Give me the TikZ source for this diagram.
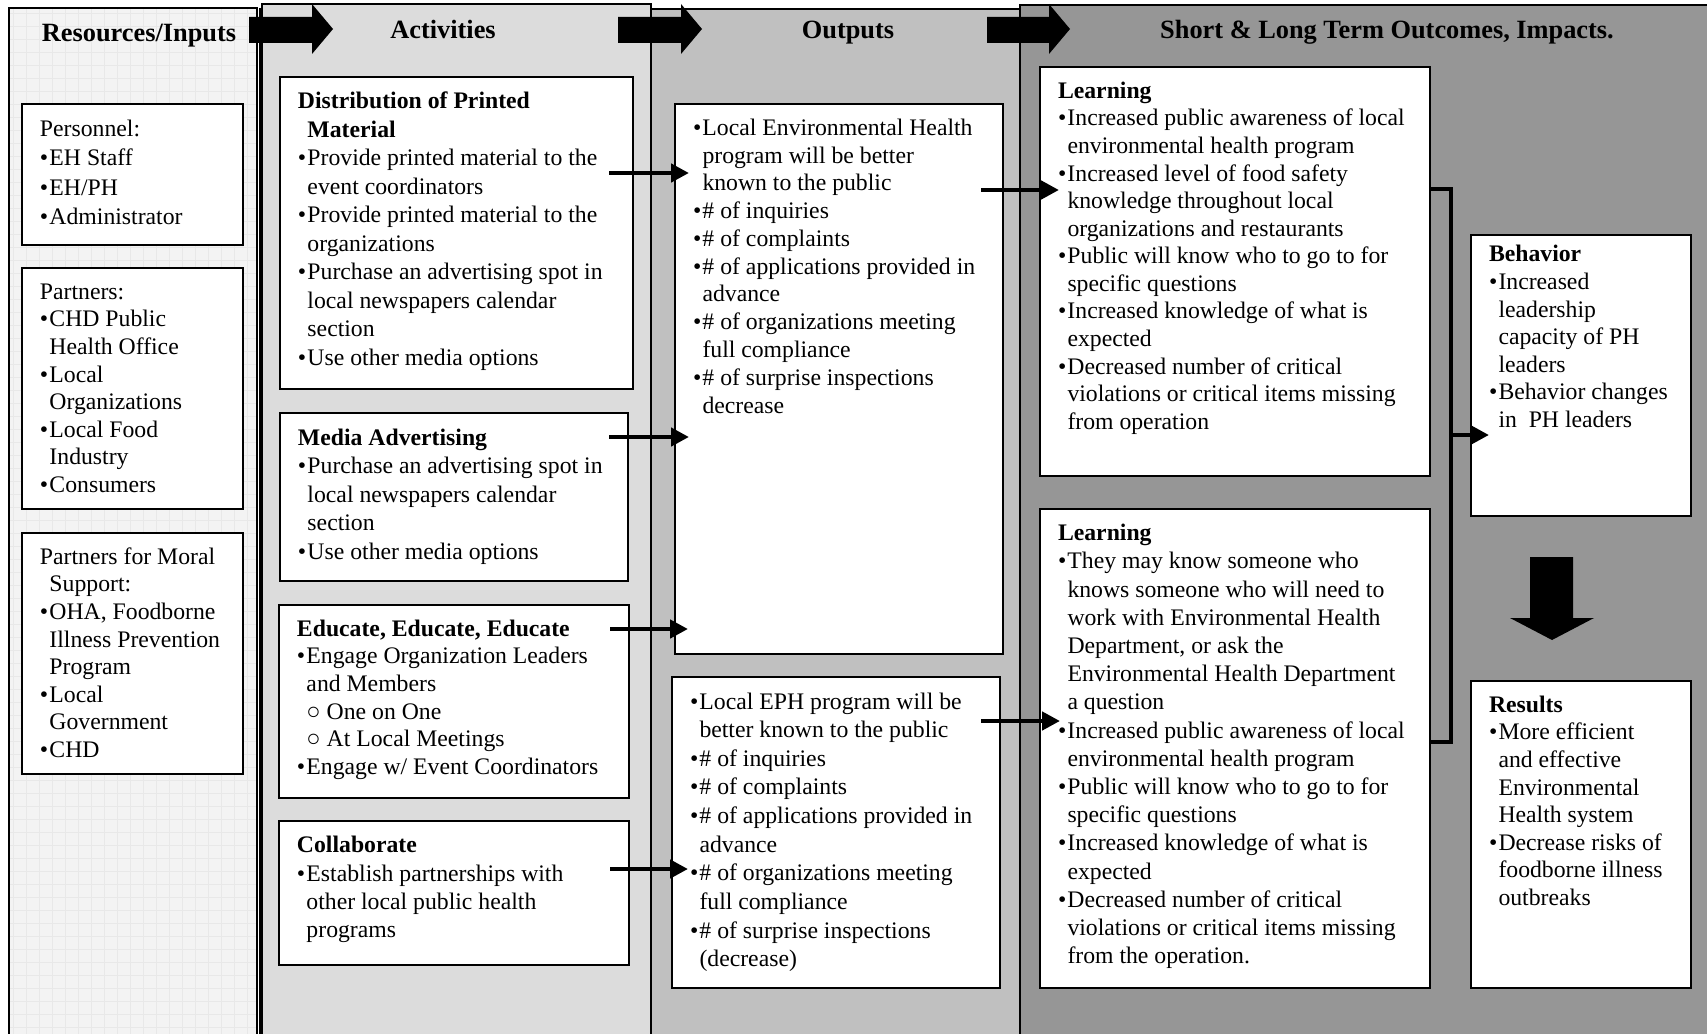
\documentclass[tikz,border=0pt]{standalone}
\usepackage{fontspec}
\setmainfont{Liberation Serif}
\usetikzlibrary{arrows.meta,positioning,shadows}
\definecolor{inputs}{HTML}{F3F3F3}
\definecolor{activ}{HTML}{DCDCDC}
\definecolor{outp}{HTML}{C0C0C0}
\definecolor{outc}{HTML}{969696}

\newlength\pxu  \setlength\pxu{0.02cm}
\newlength\padx \setlength\padx{0.36cm}
\newlength\pady \setlength\pady{0.24cm}
\newlength\bulw \setlength\bulw{0.19cm}
\newcommand{\bul}{\makebox[\bulw][l]{\textbullet}}
\newcommand{\ind}{\hspace*{\bulw}}
% width, height (px), text; optional: pull the text up
\newcommand{\boxtext}[4][0pt]{\parbox[t][\dimexpr#3\pxu-2\pady\relax][t]{\dimexpr#2\pxu-2\padx\relax}{\vskip-#1\strut#4}}

\begin{document}
\begin{tikzpicture}[x=0.02cm, y=-0.02cm,
  box/.style={draw,line width=0.04cm,fill=white,anchor=north west,
    inner xsep=\padx,inner ysep=\pady,font=\fontsize{13.5}{15.7}\selectfont,
    drop shadow={shadow xshift=0.7pt,shadow yshift=-0.7pt,fill=black!60,opacity=1}},
  lsp/.style={font=\fontsize{13.5}{#1}\selectfont},
  head/.style={anchor=base,inner sep=0pt,font=\fontsize{15}{18}\selectfont\bfseries},
  col/.style={draw,line width=0.035cm},
  arr/.style={-{Triangle[length=0.36cm,width=0.36cm]},line width=0.09cm},
  brk/.style={line width=0.09cm}
]
\useasboundingbox (0,0) rectangle (1707,1034);
\clip (0,0) rectangle (1707,1034);

% columns
\filldraw[col,fill=inputs] (9,8) rectangle (257,1050);
\draw[black!9,line width=0.3pt,step=0.26cm] (10,9) grid (256,1034);
\draw[col] (260,8) -- (260,1050);
\filldraw[col,fill=activ] (262,4) rectangle (651,1050);
\filldraw[col,fill=outp] (651,9) rectangle (1020,1050);
\filldraw[col,fill=outc] (1020,5) rectangle (1720,1050);

% block arrows between the headers
\fill (249,17) -- (312,17) -- (312,4) -- (333,29) -- (312,54) -- (312,43) -- (249,43) -- cycle;
\fill (618,17) -- (681,17) -- (681,4) -- (702,29) -- (681,54) -- (681,43) -- (618,43) -- cycle;
\fill (987,17) -- (1049,17) -- (1049,4) -- (1070,29) -- (1049,54) -- (1049,43) -- (987,43) -- cycle;

\node[head] (hres) at (139,42) {Resources/Inputs};
\node[head] (hact) at (443,39) {Activities};
\node[head] (hout) at (848,39) {Outputs};
\node[head] (himp) at (1387,39) {Short \& Long Term Outcomes, Impacts.};

% resources
\node[box,lsp=16.7] (pers) at (21,103) {\boxtext{221}{141}{Personnel:\\
  \bul EH Staff\\ \bul EH/PH\\ \bul Administrator}};
\node[box] (partn) at (21,267) {\boxtext{221}{241}{Partners:\\
  \bul CHD Public\\ \ind Health Office\\ \bul Local\\ \ind Organizations\\
  \bul Local Food\\ \ind Industry\\ \bul Consumers}};
\node[box] (moral) at (21,532) {\boxtext{221}{241}{Partners for Moral\\
  \ind Support:\\ \bul OHA, Foodborne\\ \ind Illness Prevention\\ \ind Program\\
  \bul Local\\ \ind Government\\ \bul CHD}};

% activities
\node[box,lsp=16.2] (dist) at (279,76) {\boxtext{353}{312}{\textbf{Distribution of Printed}\\
  \ind\textbf{Material}\\
  \bul Provide printed material to the\\ \ind event coordinators\\
  \bul Provide printed material to the\\ \ind organizations\\
  \bul Purchase an advertising spot in\\ \ind local newspapers calendar\\ \ind section\\
  \bul Use other media options}};
\node[box,lsp=16.3] (media) at (279,412) {\boxtext{348}{168}{\textbf{Media Advertising}\\
  \bul Purchase an advertising spot in\\ \ind local newspapers calendar\\ \ind section\\
  \bul Use other media options}};
\node[box] (educ) at (278,604) {\boxtext{350}{193}{\textbf{Educate, Educate, Educate}\\
  \bul Engage Organization Leaders\\ \ind and Members\\
  \ind ○ One on One\\ \ind ○ At Local Meetings\\
  \bul Engage w/ Event Coordinators}};
\node[box,lsp=16.1] (collab) at (278,820) {\boxtext{350}{144}{\textbf{Collaborate}\\
  \bul Establish partnerships with\\ \ind other local public health\\ \ind programs}};

% outputs
\node[box,lsp=15.8] (out1) at (674,103) {\boxtext{328}{550}{\bul Local Environmental Health\\
  \ind program will be better\\ \ind known to the public\\
  \bul \# of inquiries\\ \bul \# of complaints\\
  \bul \# of applications provided in\\ \ind advance\\
  \bul \# of organizations meeting\\ \ind full compliance\\
  \bul \# of surprise inspections\\ \ind decrease}};
\node[box,lsp=16.3] (out2) at (671,676) {\boxtext{328}{311}{\bul Local EPH program will be\\
  \ind better known to the public\\
  \bul \# of inquiries\\ \bul \# of complaints\\
  \bul \# of applications provided in\\ \ind advance\\
  \bul \# of organizations meeting\\ \ind full compliance\\
  \bul \# of surprise inspections\\ \ind (decrease)}};

% outcomes
\node[box] (learn1) at (1039,66) {\boxtext{390}{409}{\textbf{Learning}\\
  \bul Increased public awareness of local\\ \ind environmental health program\\
  \bul Increased level of food safety\\ \ind knowledge throughout local\\
  \ind organizations and restaurants\\
  \bul Public will know who to go to for\\ \ind specific questions\\
  \bul Increased knowledge of what is\\ \ind expected\\
  \bul Decreased number of critical\\ \ind violations or critical items missing\\
  \ind from operation}};
\node[box,lsp=16.05] (learn2) at (1039,508) {\boxtext{390}{479}{\textbf{Learning}\\
  \bul They may know someone who\\ \ind knows someone who will need to\\
  \ind work with Environmental Health\\ \ind Department, or ask the\\
  \ind Environmental Health Department\\ \ind a question\\
  \bul Increased public awareness of local\\ \ind environmental health program\\
  \bul Public will know who to go to for\\ \ind specific questions\\
  \bul Increased knowledge of what is\\ \ind expected\\
  \bul Decreased number of critical\\ \ind violations or critical items missing\\
  \ind from the operation.}};
\node[box] (behav) at (1470,234) {\boxtext[4.4\pxu]{220}{281}{\textbf{Behavior}\\
  \bul Increased\\ \ind leadership\\ \ind capacity of PH\\ \ind leaders\\
  \bul Behavior changes\\ \ind in\ \ PH leaders}};
\node[box] (res) at (1470,680) {\boxtext{220}{307}{\textbf{Results}\\
  \bul More efficient\\ \ind and effective\\ \ind Environmental\\ \ind Health system\\
  \bul Decrease risks of\\ \ind foodborne illness\\ \ind outbreaks}};

% connectors
\draw[arr] ([shift={(-25,97)}]dist.north east) -- ([shift={(15,70)}]out1.north west);
\draw[arr] ([shift={(-20,25)}]media.north east) -- ([shift={(15,334)}]out1.north west);
\draw[arr] ([shift={(-20,25)}]educ.north east) -- ([shift={(14,526)}]out1.north west);
\draw[arr] ([shift={(-20,49)}]collab.north east) -- ([shift={(17,193)}]out2.north west);
\draw[arr] ([shift={(-23,87)}]out1.north east) -- ([shift={(20,124)}]learn1.north west);
\draw[arr] ([shift={(-20,45)}]out2.north east) -- ([shift={(21,213)}]learn2.north west);

\draw[brk] ([shift={(0,123)}]learn1.north east) -- ++(20,0) |- ([shift={(0,234)}]learn2.north east);
\coordinate (brkmid) at (1449,435);
\draw[arr] (brkmid) -- ([shift={(19,201)}]behav.north west);

% big arrow behaviour -> results
\fill (1530,557) -- (1573,557) -- (1573,618) -- (1594,618) -- (1552,640) -- (1510,618) -- (1530,618) -- cycle;
\end{tikzpicture}
\end{document}
